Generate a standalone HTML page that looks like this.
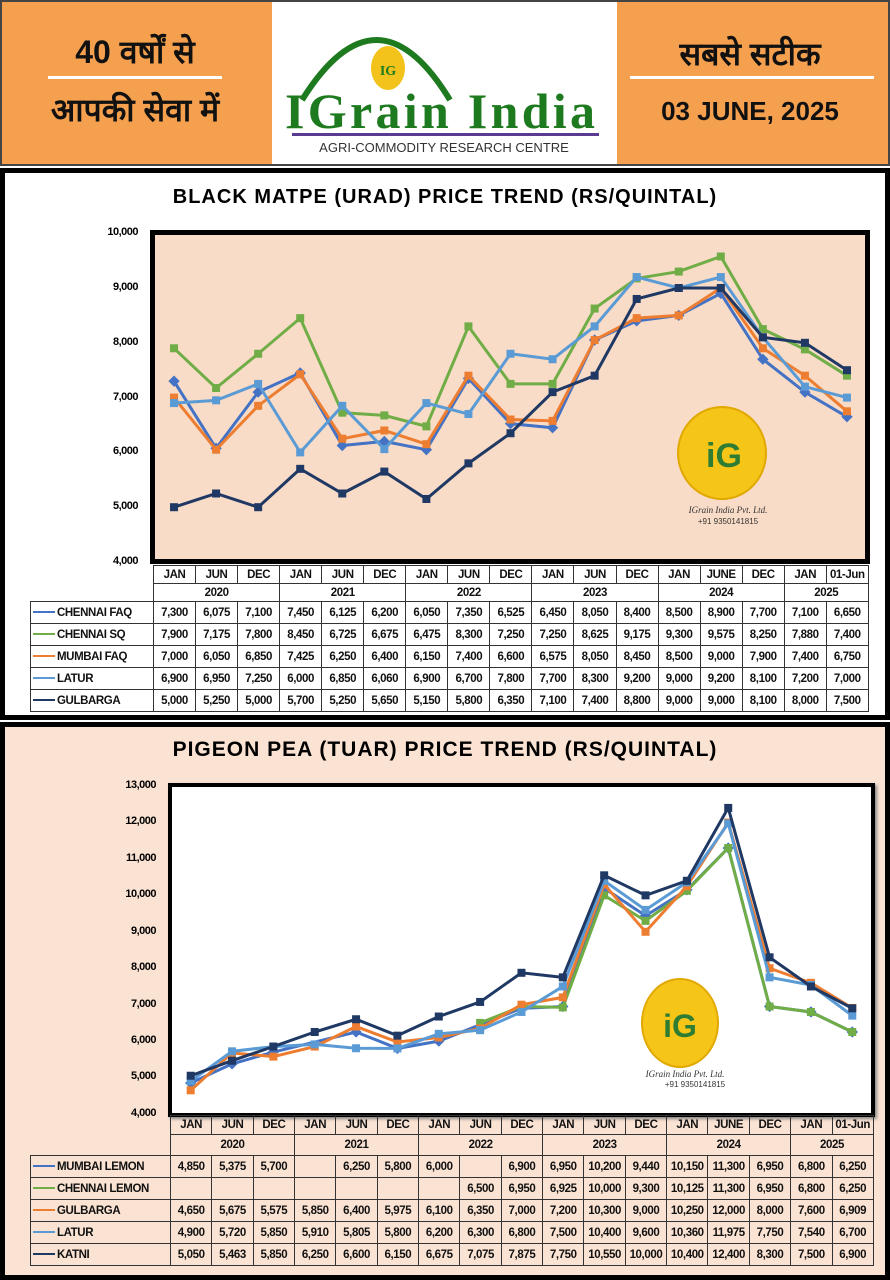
<!DOCTYPE html>
<html><head><meta charset="utf-8"><style>
*{margin:0;padding:0;box-sizing:border-box}
body{width:890px;height:1280px;position:relative;background:#fff;font-family:"Liberation Sans",sans-serif;overflow:hidden}
.abs{position:absolute}
.hdr{top:0;left:0;width:890px;height:166px;border:2px solid #444;background:#f4a04f}
.hin{font-family:"Liberation Sans","DejaVu Sans",sans-serif;font-weight:bold;color:#111;text-align:center}
table{border-collapse:collapse;position:absolute;table-layout:fixed;font-weight:bold;color:#111}
td{border:1px solid #333;text-align:center;white-space:nowrap;overflow:hidden;letter-spacing:-0.4px}
td.lab{text-align:left;padding-left:2px}
td.e{border:none}
.yl{font-size:11px;font-weight:bold;text-align:right;width:60px;letter-spacing:-0.5px}
.mk{display:inline-block;width:22px;height:2px;vertical-align:middle;margin-right:2px;position:relative}
</style></head><body>
<div class="abs hdr"></div>
<div class="abs" style="left:272px;top:2px;width:345px;height:162px;background:#fff"></div>
<div class="abs hin" style="left:20px;top:30px;width:230px;font-size:32px">40 वर्षों से</div>
<div class="abs" style="left:48px;top:76px;width:174px;height:3px;background:#fff"></div>
<div class="abs hin" style="left:20px;top:88px;width:230px;font-size:32px">आपकी सेवा में</div>
<div class="abs hin" style="left:630px;top:32px;width:240px;font-size:32px">सबसे सटीक</div>
<div class="abs" style="left:630px;top:76px;width:244px;height:3px;background:#fff"></div>
<div class="abs hin" style="left:630px;top:96px;width:240px;font-size:26px">03 JUNE, 2025</div>
<svg class="abs" style="left:272px;top:0" width="345" height="166">
<path d="M30 100 Q105 -20 178 100" fill="none" stroke="#1e7a1e" stroke-width="6"/>
<ellipse cx="116" cy="68" rx="17" ry="22" fill="#f3c21b"/>
<text x="116" y="75" font-size="14" font-weight="bold" fill="#1e7a1e" text-anchor="middle" font-family="Liberation Serif">IG</text>
<text x="168" y="128" font-family="Liberation Serif" font-weight="bold" font-size="50" fill="#1e7a1e" text-anchor="middle" textLength="310">IGrain India</text>
<rect x="20" y="133" width="307" height="3" fill="#5b3a91"/>
<text x="172" y="152" font-size="13" fill="#333" text-anchor="middle">AGRI-COMMODITY RESEARCH CENTRE</text>
</svg>

<!-- chart 1 -->
<div class="abs" style="left:0;top:168px;width:890px;height:552px;border:5px solid #000;background:#fff"></div>
<div class="abs" style="left:0;top:186px;width:890px;text-align:center;font-size:20px;font-weight:bold;letter-spacing:1px">BLACK MATPE (URAD) PRICE TREND (RS/QUINTAL)</div>
<div class="abs" style="left:150px;top:230px;width:720px;height:334px;border:5px solid #000;background:#f9dcc7"></div>
<div class="abs yl" style="left:78px;top:226px">10,000</div>
<div class="abs yl" style="left:78px;top:281px">9,000</div>
<div class="abs yl" style="left:78px;top:336px">8,000</div>
<div class="abs yl" style="left:78px;top:391px">7,000</div>
<div class="abs yl" style="left:78px;top:445px">6,000</div>
<div class="abs yl" style="left:78px;top:500px">5,000</div>
<div class="abs yl" style="left:78px;top:555px">4,000</div>
<svg class="abs" style="left:676px;top:405px" width="110" height="120">
<ellipse cx="46" cy="48" rx="44" ry="46" fill="#f5c518" stroke="#e0a800" stroke-width="2"/>
<text x="48" y="62" font-size="34" font-weight="bold" fill="#2e7d32" text-anchor="middle">iG</text>
<text x="52" y="108" font-size="9" font-style="italic" fill="#333" text-anchor="middle" font-family="Liberation Serif">IGrain India Pvt. Ltd.</text>
<text x="52" y="119" font-size="8" fill="#333" text-anchor="middle">+91 9350141815</text>
</svg>
<table style="left:30px;top:565px;width:838px;font-size:11.5px">
<colgroup><col style="width:123px"><col span="17" style="width:42.06px"></colgroup>
<tr style="height:18px"><td class="e"></td><td>JAN</td><td>JUN</td><td>DEC</td><td>JAN</td><td>JUN</td><td>DEC</td><td>JAN</td><td>JUN</td><td>DEC</td><td>JAN</td><td>JUN</td><td>DEC</td><td>JAN</td><td>JUNE</td><td>DEC</td><td>JAN</td><td>01-Jun</td></tr>
<tr style="height:18px"><td class="e"></td><td colspan="3">2020</td><td colspan="3">2021</td><td colspan="3">2022</td><td colspan="3">2023</td><td colspan="3">2024</td><td colspan="2">2025</td></tr>
<tr style="height:22px"><td class="lab"><span class="mk" style="background:#4472c4"></span>CHENNAI FAQ</td><td>7,300</td><td>6,075</td><td>7,100</td><td>7,450</td><td>6,125</td><td>6,200</td><td>6,050</td><td>7,350</td><td>6,525</td><td>6,450</td><td>8,050</td><td>8,400</td><td>8,500</td><td>8,900</td><td>7,700</td><td>7,100</td><td>6,650</td></tr>
<tr style="height:22px"><td class="lab"><span class="mk" style="background:#70ad47"></span>CHENNAI SQ</td><td>7,900</td><td>7,175</td><td>7,800</td><td>8,450</td><td>6,725</td><td>6,675</td><td>6,475</td><td>8,300</td><td>7,250</td><td>7,250</td><td>8,625</td><td>9,175</td><td>9,300</td><td>9,575</td><td>8,250</td><td>7,880</td><td>7,400</td></tr>
<tr style="height:22px"><td class="lab"><span class="mk" style="background:#ed7d31"></span>MUMBAI FAQ</td><td>7,000</td><td>6,050</td><td>6,850</td><td>7,425</td><td>6,250</td><td>6,400</td><td>6,150</td><td>7,400</td><td>6,600</td><td>6,575</td><td>8,050</td><td>8,450</td><td>8,500</td><td>9,000</td><td>7,900</td><td>7,400</td><td>6,750</td></tr>
<tr style="height:22px"><td class="lab"><span class="mk" style="background:#5b9bd5"></span>LATUR</td><td>6,900</td><td>6,950</td><td>7,250</td><td>6,000</td><td>6,850</td><td>6,060</td><td>6,900</td><td>6,700</td><td>7,800</td><td>7,700</td><td>8,300</td><td>9,200</td><td>9,000</td><td>9,200</td><td>8,100</td><td>7,200</td><td>7,000</td></tr>
<tr style="height:22px"><td class="lab"><span class="mk" style="background:#1f3864"></span>GULBARGA</td><td>5,000</td><td>5,250</td><td>5,000</td><td>5,700</td><td>5,250</td><td>5,650</td><td>5,150</td><td>5,800</td><td>6,350</td><td>7,100</td><td>7,400</td><td>8,800</td><td>9,000</td><td>9,000</td><td>8,100</td><td>8,000</td><td>7,500</td></tr>
</table>

<!-- chart 2 -->
<div class="abs" style="left:0;top:722px;width:890px;height:558px;border:5px solid #000;background:#fbe3d3"></div>
<div class="abs" style="left:0;top:738px;width:890px;text-align:center;font-size:21px;font-weight:bold;letter-spacing:1px">PIGEON PEA (TUAR) PRICE TREND (RS/QUINTAL)</div>
<div class="abs" style="left:168px;top:783px;width:707px;height:334px;border:4px solid #000;background:#fff;box-shadow:2px 2px 3px #888"></div>
<div class="abs yl" style="left:96px;top:779px">13,000</div>
<div class="abs yl" style="left:96px;top:815px">12,000</div>
<div class="abs yl" style="left:96px;top:852px">11,000</div>
<div class="abs yl" style="left:96px;top:888px">10,000</div>
<div class="abs yl" style="left:96px;top:925px">9,000</div>
<div class="abs yl" style="left:96px;top:961px">8,000</div>
<div class="abs yl" style="left:96px;top:998px">7,000</div>
<div class="abs yl" style="left:96px;top:1034px">6,000</div>
<div class="abs yl" style="left:96px;top:1070px">5,000</div>
<div class="abs yl" style="left:96px;top:1107px">4,000</div>
<svg class="abs" style="left:630px;top:975px" width="110" height="110">
<ellipse cx="50" cy="48" rx="38" ry="44" fill="#f5c518" stroke="#e0a800" stroke-width="2"/>
<text x="50" y="62" font-size="32" font-weight="bold" fill="#2e7d32" text-anchor="middle">iG</text>
<text x="55" y="102" font-size="9" font-style="italic" fill="#333" text-anchor="middle" font-family="Liberation Serif">IGrain India Pvt. Ltd.</text>
</svg>
<div class="abs" style="left:640px;top:1080px;width:110px;text-align:center;font-size:8px;color:#333">+91 9350141815</div>
<table style="left:30px;top:1115px;width:843px;font-size:11.5px">
<colgroup><col style="width:140px"><col span="17" style="width:41.35px"></colgroup>
<tr style="height:19px"><td class="e"></td><td>JAN</td><td>JUN</td><td>DEC</td><td>JAN</td><td>JUN</td><td>DEC</td><td>JAN</td><td>JUN</td><td>DEC</td><td>JAN</td><td>JUN</td><td>DEC</td><td>JAN</td><td>JUNE</td><td>DEC</td><td>JAN</td><td>01-Jun</td></tr>
<tr style="height:21px"><td class="e"></td><td colspan="3">2020</td><td colspan="3">2021</td><td colspan="3">2022</td><td colspan="3">2023</td><td colspan="3">2024</td><td colspan="2">2025</td></tr>
<tr style="height:22px"><td class="lab"><span class="mk" style="background:#4472c4"></span>MUMBAI LEMON</td><td>4,850</td><td>5,375</td><td>5,700</td><td></td><td>6,250</td><td>5,800</td><td>6,000</td><td></td><td>6,900</td><td>6,950</td><td>10,200</td><td>9,440</td><td>10,150</td><td>11,300</td><td>6,950</td><td>6,800</td><td>6,250</td></tr>
<tr style="height:22px"><td class="lab"><span class="mk" style="background:#70ad47"></span>CHENNAI LEMON</td><td></td><td></td><td></td><td></td><td></td><td></td><td></td><td>6,500</td><td>6,950</td><td>6,925</td><td>10,000</td><td>9,300</td><td>10,125</td><td>11,300</td><td>6,950</td><td>6,800</td><td>6,250</td></tr>
<tr style="height:22px"><td class="lab"><span class="mk" style="background:#ed7d31"></span>GULBARGA</td><td>4,650</td><td>5,675</td><td>5,575</td><td>5,850</td><td>6,400</td><td>5,975</td><td>6,100</td><td>6,350</td><td>7,000</td><td>7,200</td><td>10,300</td><td>9,000</td><td>10,250</td><td>12,000</td><td>8,000</td><td>7,600</td><td>6,909</td></tr>
<tr style="height:22px"><td class="lab"><span class="mk" style="background:#5b9bd5"></span>LATUR</td><td>4,900</td><td>5,720</td><td>5,850</td><td>5,910</td><td>5,805</td><td>5,800</td><td>6,200</td><td>6,300</td><td>6,800</td><td>7,500</td><td>10,400</td><td>9,600</td><td>10,360</td><td>11,975</td><td>7,750</td><td>7,540</td><td>6,700</td></tr>
<tr style="height:22px"><td class="lab"><span class="mk" style="background:#1f3864"></span>KATNI</td><td>5,050</td><td>5,463</td><td>5,850</td><td>6,250</td><td>6,600</td><td>6,150</td><td>6,675</td><td>7,075</td><td>7,875</td><td>7,750</td><td>10,550</td><td>10,000</td><td>10,400</td><td>12,400</td><td>8,300</td><td>7,500</td><td>6,900</td></tr>
</table>

<svg id="ov" class="abs" style="left:0;top:0" width="890" height="1280"></svg>
<script>
var ov=document.getElementById('ov'),ns='http://www.w3.org/2000/svg';
function draw(series,xf,yf){series.forEach(function(s){var pts=[];s.d.forEach(function(v,i){if(v!=null)pts.push([xf(i),yf(v)]);});
var p=document.createElementNS(ns,'polyline');p.setAttribute('points',pts.map(function(a){return a.join(',')}).join(' '));
p.setAttribute('fill','none');p.setAttribute('stroke',s.c);p.setAttribute('stroke-width','3');ov.appendChild(p);
pts.forEach(function(a){var r=document.createElementNS(ns,'rect');r.setAttribute('x',a[0]-4);r.setAttribute('y',a[1]-4);r.setAttribute('width',8);r.setAttribute('height',8);r.setAttribute('fill',s.c);
if(s.dia)r.setAttribute('transform','rotate(45 '+a[0]+' '+a[1]+')');ov.appendChild(r);});});}
draw([
{c:'#4472c4',dia:1,d:[7300,6075,7100,7450,6125,6200,6050,7350,6525,6450,8050,8400,8500,8900,7700,7100,6650]},
{c:'#70ad47',d:[7900,7175,7800,8450,6725,6675,6475,8300,7250,7250,8625,9175,9300,9575,8250,7880,7400]},
{c:'#ed7d31',d:[7000,6050,6850,7425,6250,6400,6150,7400,6600,6575,8050,8450,8500,9000,7900,7400,6750]},
{c:'#5b9bd5',d:[6900,6950,7250,6000,6850,6060,6900,6700,7800,7700,8300,9200,9000,9200,8100,7200,7000]},
{c:'#1f3864',d:[5000,5250,5000,5700,5250,5650,5150,5800,6350,7100,7400,8800,9000,9000,8100,8000,7500]}
],function(i){return 153+42.06*(i+0.5)},function(v){return 562-(v-4000)*0.0548});
draw([
{c:'#4472c4',dia:1,d:[4850,5375,5700,null,6250,5800,6000,null,6900,6950,10200,9440,10150,11300,6950,6800,6250]},
{c:'#70ad47',d:[null,null,null,null,null,null,null,6500,6950,6925,10000,9300,10125,11300,6950,6800,6250]},
{c:'#ed7d31',d:[4650,5675,5575,5850,6400,5975,6100,6350,7000,7200,10300,9000,10250,12000,8000,7600,6909]},
{c:'#5b9bd5',d:[4900,5720,5850,5910,5805,5800,6200,6300,6800,7500,10400,9600,10360,11975,7750,7540,6700]},
{c:'#1f3864',d:[5050,5463,5850,6250,6600,6150,6675,7075,7875,7750,10550,10000,10400,12400,8300,7500,6900]}
],function(i){return 170+41.35*(i+0.5)},function(v){return 1114-(v-4000)*0.03644});
</script>
</body></html>
